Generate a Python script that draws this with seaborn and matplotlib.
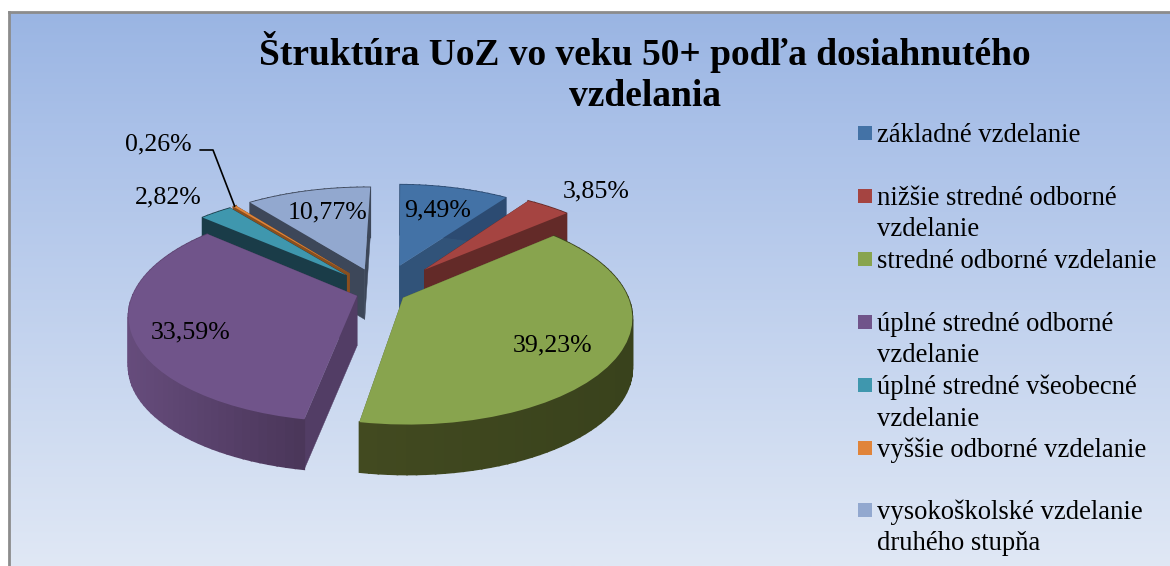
import numpy as np
import matplotlib
matplotlib.use('Agg')
import matplotlib.pyplot as plt
import matplotlib.transforms as mtransforms
from matplotlib.colors import LinearSegmentedColormap, to_rgb
from matplotlib.patches import Polygon, Rectangle
import seaborn as sns

# data
categories = ['základné vzdelanie', 'nižšie stredné odborné\nvzdelanie', 'stredné odborné vzdelanie',
              'úplné stredné odborné\nvzdelanie', 'úplné stredné všeobecné\nvzdelanie',
              'vyššie odborné vzdelanie', 'vysokoškolské vzdelanie\ndruhého stupňa']
shares = [9.49, 3.85, 39.23, 33.59, 2.82, 0.26, 10.77]
title_text = 'Štruktúra UoZ vo veku 50+ podľa dosiahnutého\nvzdelania'

# styles
explode = [0.28, 0.3, 0.113, 0.113, 0.23, 0.235, 0.24]
top_colors = ['#4372a6', '#a54441', '#88a44e', '#70548a', '#3f97ae', '#e0843a', '#92a8cf']
wall_left = ['#2c4b72', '#632a28', '#424a20', '#664c7c', '#1a3c48', '#8a4f1e', '#3d4759']
wall_right = ['#2c4b72', '#632a28', '#39421c', '#4a3659', '#1a3c48', '#8a4f1e', '#3d4759']
draw_rank = [1, 2, 5, 4, 3, 2, 1]
label_spots = [(404, 216), (563, 197), (513, 351), (151, 338), (135, 203), (125, 150), (288, 218)]
legend_rows = [142, 205, 268, 331, 394, 457, 519]

# projection of the pie plane to pixels
CX, CY, RX, RY, PERSP, DEPTH = 381, 292, 223, 103, 0.17, 50


class Tilt(mtransforms.Transform):
    input_dims = 2
    output_dims = 2

    def transform_non_affine(self, xy):
        xy = np.asarray(xy, dtype=float)
        s = 1 / (1 + PERSP * xy[:, 1])
        return np.column_stack([CX + RX * xy[:, 0] * s, CY - RY * xy[:, 1] * s])


tilt = Tilt()


def mix(c1, c2, t):
    return tuple((1 - t) * a + t * b for a, b in zip(to_rgb(c1), to_rgb(c2)))


sns.set_theme(style='white')
plt.rcParams['font.family'] = ['Liberation Serif', 'DejaVu Serif']

fig = plt.figure(figsize=(11.7, 5.66), dpi=100, facecolor='white')

# background panel with gradient
bg = fig.add_axes([9 / 1170, 0, 1 - 9 / 1170, 1 - 12 / 566])
cmap = LinearSegmentedColormap.from_list('panel', [(0, '#9ab5e3'), (0.2, '#a9c0e8'), (1, '#e0e8f5')])
bg.imshow(np.linspace(0, 1, 256)[:, None], aspect='auto', cmap=cmap)
bg.set_xticks([])
bg.set_yticks([])
for name, sp in bg.spines.items():
    sp.set_color('#8c8c8c')
    sp.set_linewidth(2)
    sp.set_visible(name in ('left', 'top'))

ax = fig.add_axes([0, 0, 1, 1], facecolor='none')
wedges, _ = ax.pie(shares, explode=explode, colors=sns.color_palette(top_colors),
                   startangle=89, counterclock=False, wedgeprops={'linewidth': 0})
ax.set_aspect('auto')
ax.set_xlim(0, 1170)
ax.set_ylim(566, 0)
ax.axis('off')

for i, w in enumerate(wedges):
    base = draw_rank[i] * 10
    w.set_transform(tilt + ax.transData)
    w.set_zorder(base + 5)
    c = np.array(w.center)

    # radial walls
    for ang in (w.theta1, w.theta2):
        rim = c + np.array([np.cos(np.radians(ang)), np.sin(np.radians(ang))])
        p = tilt.transform(np.array([c, rim]))
        wall = np.vstack([p, p[::-1] + [0, DEPTH]])
        col = wall_left[i] if i in (1, 4, 5, 6) else mix(top_colors[i], '#000000', 0.27)
        ax.add_patch(Polygon(wall, closed=True, fc=col, ec=col, lw=0.3, zorder=base + 1))

    # outer wall in thin strips so the shade can change along it
    steps = max(int((w.theta2 - w.theta1) / 2), 1)
    angs = np.radians(np.linspace(w.theta1, w.theta2, steps + 1))
    rim = tilt.transform(c + np.column_stack([np.cos(angs), np.sin(angs)]))
    x0, x1 = rim[:, 0].min(), rim[:, 0].max()
    for k in range(steps):
        seg = rim[k:k + 2]
        t = (seg[:, 0].mean() - x0) / max(x1 - x0, 1)
        col = mix(wall_left[i], wall_right[i], t)
        ax.add_patch(Polygon(np.vstack([seg, seg[::-1] + [0, DEPTH]]), closed=True,
                             fc=col, ec=col, lw=1.2, zorder=base + 2))

# data labels
for v, (lx, ly) in zip(shares, label_spots):
    ax.text(lx, ly, f'{v:.2f}%'.replace('.', ','), fontsize=18.6, color='black',
            ha='left', va='baseline', zorder=100)

# leader line for the smallest slice
small = wedges[5]
mid = np.radians((small.theta1 + small.theta2) / 2)
tip = tilt.transform((np.array(small.center) + [np.cos(mid), np.sin(mid)])[None, :])[0]
ax.plot([200, 213, tip[0]], [150, 150, tip[1]], color='black', lw=1.2, zorder=100)

# title
ax.text(645, 65, title_text.split('\n')[0], fontsize=27, fontweight='bold', color='black',
        ha='center', va='baseline', zorder=100)
ax.text(645, 106, title_text.split('\n')[1], fontsize=27, fontweight='bold', color='black',
        ha='center', va='baseline', zorder=100)

# legend
for name, col, row in zip(categories, top_colors, legend_rows):
    ax.add_patch(Rectangle((858, row - 16), 14, 14, fc=col, ec='none', zorder=100))
    for j, line in enumerate(name.split('\n')):
        ax.text(877, row + j * 31.5, line, fontsize=19.2, color='black',
                ha='left', va='baseline', zorder=100)

fig.savefig('out.png', dpi=100)
